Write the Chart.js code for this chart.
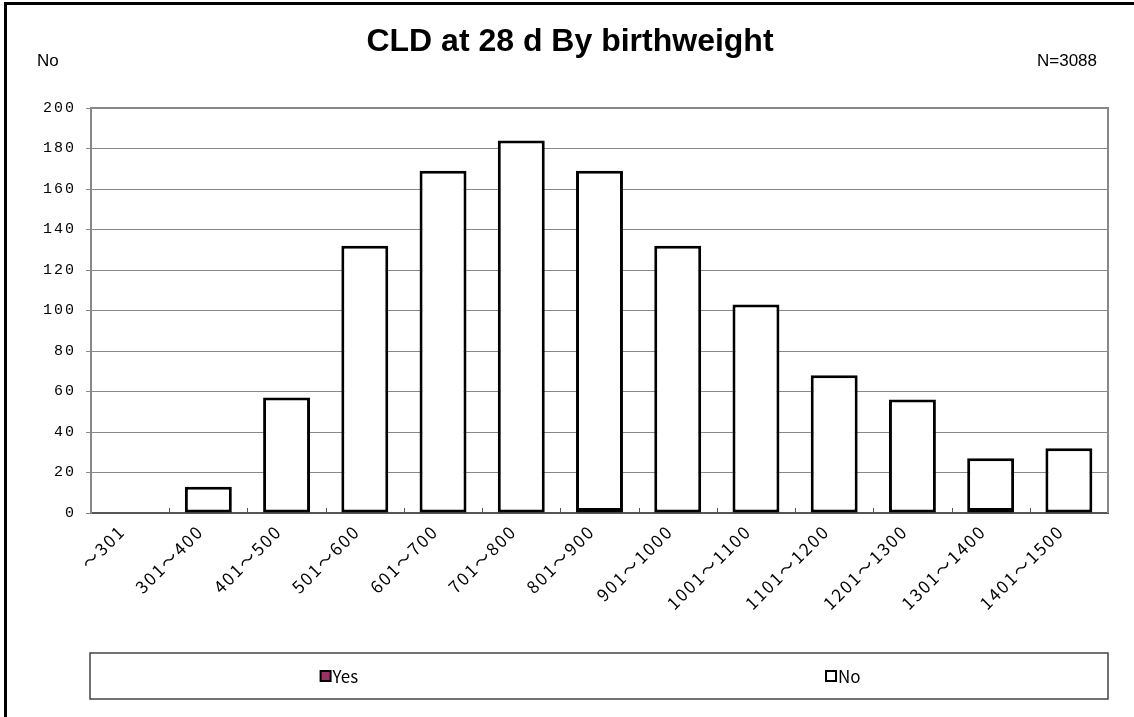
<!DOCTYPE html>
<html>
<head>
<meta charset="utf-8">
<script src="https://cdn.jsdelivr.net/npm/chart.js@4.4.0/dist/chart.umd.min.js"></script>
<style>
  html, body { margin: 0; padding: 0; background: #fff; }
</style>
</head>
<body>
<canvas id="barChart" width="1134" height="717"></canvas>
<script>
const categories = ["〜301", "301〜400", "401〜500", "501〜600", "601〜700", "701〜800", "801〜900",
    "901〜1000", "1001〜1100", "1101〜1200", "1201〜1300", "1301〜1400", "1401〜1500"];
const yesCounts = [0, 0, 0, 0, 0, 0, 1, 0, 0, 0, 0, 1, 0];
const noCounts = [0, 13, 57, 132, 169, 184, 168, 132, 103, 68, 56, 26, 32];
const yTicks = [0, 20, 40, 60, 80, 100, 120, 140, 160, 180, 200];
const chartTitle = "CLD at 28 d By birthweight";
const yAxisNote = "No";
const totalNote = "N=3088";

const extras = {
    id: 'extras',
    beforeDraw(chart) {
        const ctx = chart.ctx;
        ctx.save();
        ctx.fillStyle = "#fff";
        ctx.fillRect(0, 0, chart.width, chart.height);
        ctx.restore();
        // wider spacing for the axis labels, like the original
        ctx.letterSpacing = "2px";
    },
    afterDraw(chart) {
        const ctx = chart.ctx;
        const area = chart.chartArea;
        ctx.letterSpacing = "0px";
        ctx.save();

        // outer frame (only left and top visible)
        ctx.fillStyle = "#000";
        ctx.fillRect(4, 2, 3, chart.height);
        ctx.fillRect(4, 2, chart.width, 3);

        // plot border top / right
        ctx.strokeStyle = "#888";
        ctx.lineWidth = 2;
        ctx.beginPath();
        ctx.moveTo(area.left, area.top);
        ctx.lineTo(area.right, area.top);
        ctx.lineTo(area.right, area.bottom);
        ctx.stroke();

        // small category ticks on the baseline
        ctx.strokeStyle = "#555";
        ctx.lineWidth = 1;
        const step = (area.right - area.left) / categories.length;
        for (let i = 1; i < categories.length; i++) {
            const x = Math.round(area.left + i * step) + 0.5;
            ctx.beginPath();
            ctx.moveTo(x, area.bottom);
            ctx.lineTo(x, area.bottom - 5);
            ctx.stroke();
        }

        // texts
        ctx.fillStyle = "#000";
        ctx.textBaseline = "middle";
        ctx.font = "bold 32px 'Liberation Sans', Arial, sans-serif";
        ctx.textAlign = "center";
        ctx.fillText(chartTitle, 570, 42);
        ctx.font = "17px 'Liberation Sans', Arial, sans-serif";
        ctx.textAlign = "left";
        ctx.fillText(yAxisNote, 37, 61);
        ctx.textAlign = "right";
        ctx.fillText(totalNote, 1097, 61);

        // legend box
        const lx = 90, ly = 653, lw = 1018, lh = 46;
        ctx.strokeStyle = "#444";
        ctx.lineWidth = 1.5;
        ctx.strokeRect(lx, ly, lw, lh);
        const centers = [lx + lw * 0.245, lx + lw * 0.74];
        ctx.font = "17px 'Noto Sans CJK JP', sans-serif";
        ctx.textAlign = "left";
        chart.data.datasets.forEach((ds, i) => {
            const tw = ctx.measureText(ds.label).width;
            const x0 = centers[i] - (12 + tw) / 2;
            const cy = ly + lh / 2;
            ctx.fillStyle = ds.backgroundColor;
            ctx.fillRect(x0, cy - 5, 10, 10);
            ctx.strokeStyle = "#000";
            ctx.lineWidth = 2;
            ctx.strokeRect(x0, cy - 5, 10, 10);
            ctx.fillStyle = "#000";
            ctx.fillText(ds.label, x0 + 12, cy + 1);
        });
        ctx.restore();
    }
};

const ctx = document.getElementById('barChart');

new Chart(ctx, {
    type: 'bar',
    data: {
        labels: categories,
        datasets: [{
            label: 'Yes',
            data: yesCounts,
            backgroundColor: '#993366',
            borderColor: '#000',
            borderWidth: 3,
            borderSkipped: false,
            categoryPercentage: 1,
            barPercentage: 0.6
        }, {
            label: 'No',
            data: noCounts,
            backgroundColor: '#ffffff',
            borderColor: '#000',
            borderWidth: 3,
            borderSkipped: false,
            categoryPercentage: 1,
            barPercentage: 0.6
        }]
    },
    options: {
        responsive: false,
        animation: false,
        layout: {
            padding: { top: 108, right: 26, bottom: 0, left: 0 }
        },
        plugins: {
            legend: { display: false },
            title: { display: false },
            tooltip: { enabled: false }
        },
        scales: {
            x: {
                stacked: true,
                grid: { display: false },
                border: { display: true, color: '#555', width: 2 },
                ticks: {
                    color: '#000',
                    minRotation: 45,
                    maxRotation: 45,
                    padding: 0,
                    labelOffset: -8,
                    font: { size: 17, family: "'Noto Sans CJK JP', sans-serif" }
                },
                afterFit(scale) { scale.height = 204; }
            },
            y: {
                stacked: true,
                min: 0,
                max: 200,
                afterBuildTicks(scale) {
                    scale.ticks = yTicks.map(v => ({ value: v }));
                },
                grid: { color: '#888', lineWidth: 1, tickLength: 5 },
                border: { display: true, color: '#888', width: 2 },
                ticks: {
                    color: '#000',
                    padding: 10,
                    font: { size: 15, family: "'Liberation Mono', monospace" }
                },
                afterFit(scale) { scale.width = 91; }
            }
        }
    },
    plugins: [extras]
});
</script>
</body>
</html>
